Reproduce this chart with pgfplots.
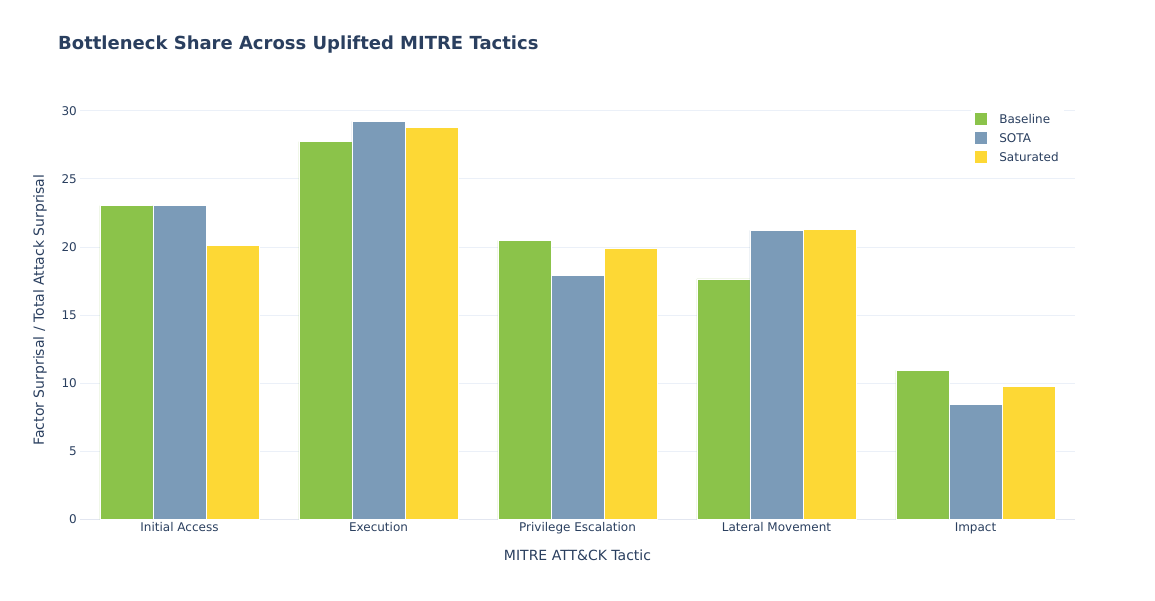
\documentclass[border=0pt]{standalone}
\usepackage{pgfplots}
\pgfplotsset{compat=1.18}
\usepackage{fontspec}
\setmainfont{DejaVu Sans}
\definecolor{txt}{HTML}{2A3F5F}
\definecolor{gridc}{HTML}{EBF0F8}
\definecolor{zeroc}{HTML}{E2E6F0}
\definecolor{cBase}{HTML}{8BC34A}
\definecolor{cSota}{HTML}{7B9BB8}
\definecolor{cSat}{HTML}{FDD835}
\pgfplotstableread{
x base sota sat
0 23.03 23.07 20.10
1 27.73 29.22 28.79
2 20.46 17.90 19.90
3 17.66 21.22 21.29
4 10.95 8.44 9.76
}\datatable
\begin{document}
\begin{tikzpicture}[x=1pt,y=1pt]
\useasboundingbox (0,0) rectangle (1155,600);
\begin{axis}[
  at={(80pt,80.4pt)}, anchor=south west, scale only axis,
  width=995pt, height=419.1pt,
  xmin=-0.5, xmax=4.5, ymin=0, ymax=30.75,
  axis line style={draw=none},
  major tick length=0pt,
  ymajorgrids, grid style={gridc, line width=1pt},
  ytick={0,5,10,15,20,25,30},
  xtick={0,1,2,3,4},
  xticklabels={Initial Access, Execution, Privilege Escalation, Lateral Movement, Impact},
  ticklabel style={font=\fontsize{12}{14}\selectfont, text=txt},
  yticklabel style={inner sep=1pt, xshift=-2pt},
  xticklabel style={inner sep=1pt, yshift=-2pt},
  /pgf/number format/assume math mode=true,
  ybar, bar width=0.2667,
  legend style={at={(rel axis cs:0.895,0.98)}, anchor=north west, draw=none, fill=white,
    font=\fontsize{12}{14}\selectfont, text=txt, row sep=4.5pt, inner sep=3pt},
  legend cell align=left,
  legend image code/.code={\fill[#1] (0pt,-6pt) rectangle (13pt,7pt);},
]
\draw[zeroc, line width=1.5pt] (axis cs:-0.5,0) -- (axis cs:4.5,0);
\addplot[fill=cBase, draw=white, line width=0.6pt, bar shift=-0.2667] table[x=x,y=base] {\datatable};
\addplot[fill=cSota, draw=white, line width=0.6pt, bar shift=0] table[x=x,y=sota] {\datatable};
\addplot[fill=cSat, draw=white, line width=0.6pt, bar shift=0.2667] table[x=x,y=sat] {\datatable};
\legend{\hspace{10pt}Baseline,\hspace{10pt}SOTA,\hspace{10pt}Saturated}
\end{axis}
\node[anchor=base west, inner sep=0pt, font=\bfseries\fontsize{18}{21}\selectfont, text=txt] at (58,550) {Bottleneck Share Across Uplifted MITRE Tactics};
\node[font=\fontsize{14}{16}\selectfont, text=txt] at (577.5,45) {MITRE ATT\&CK Tactic};
\node[rotate=90, font=\fontsize{14}{16}\selectfont, text=txt] at (40,290) {Factor Surprisal / Total Attack Surprisal};
\end{tikzpicture}
\end{document}
